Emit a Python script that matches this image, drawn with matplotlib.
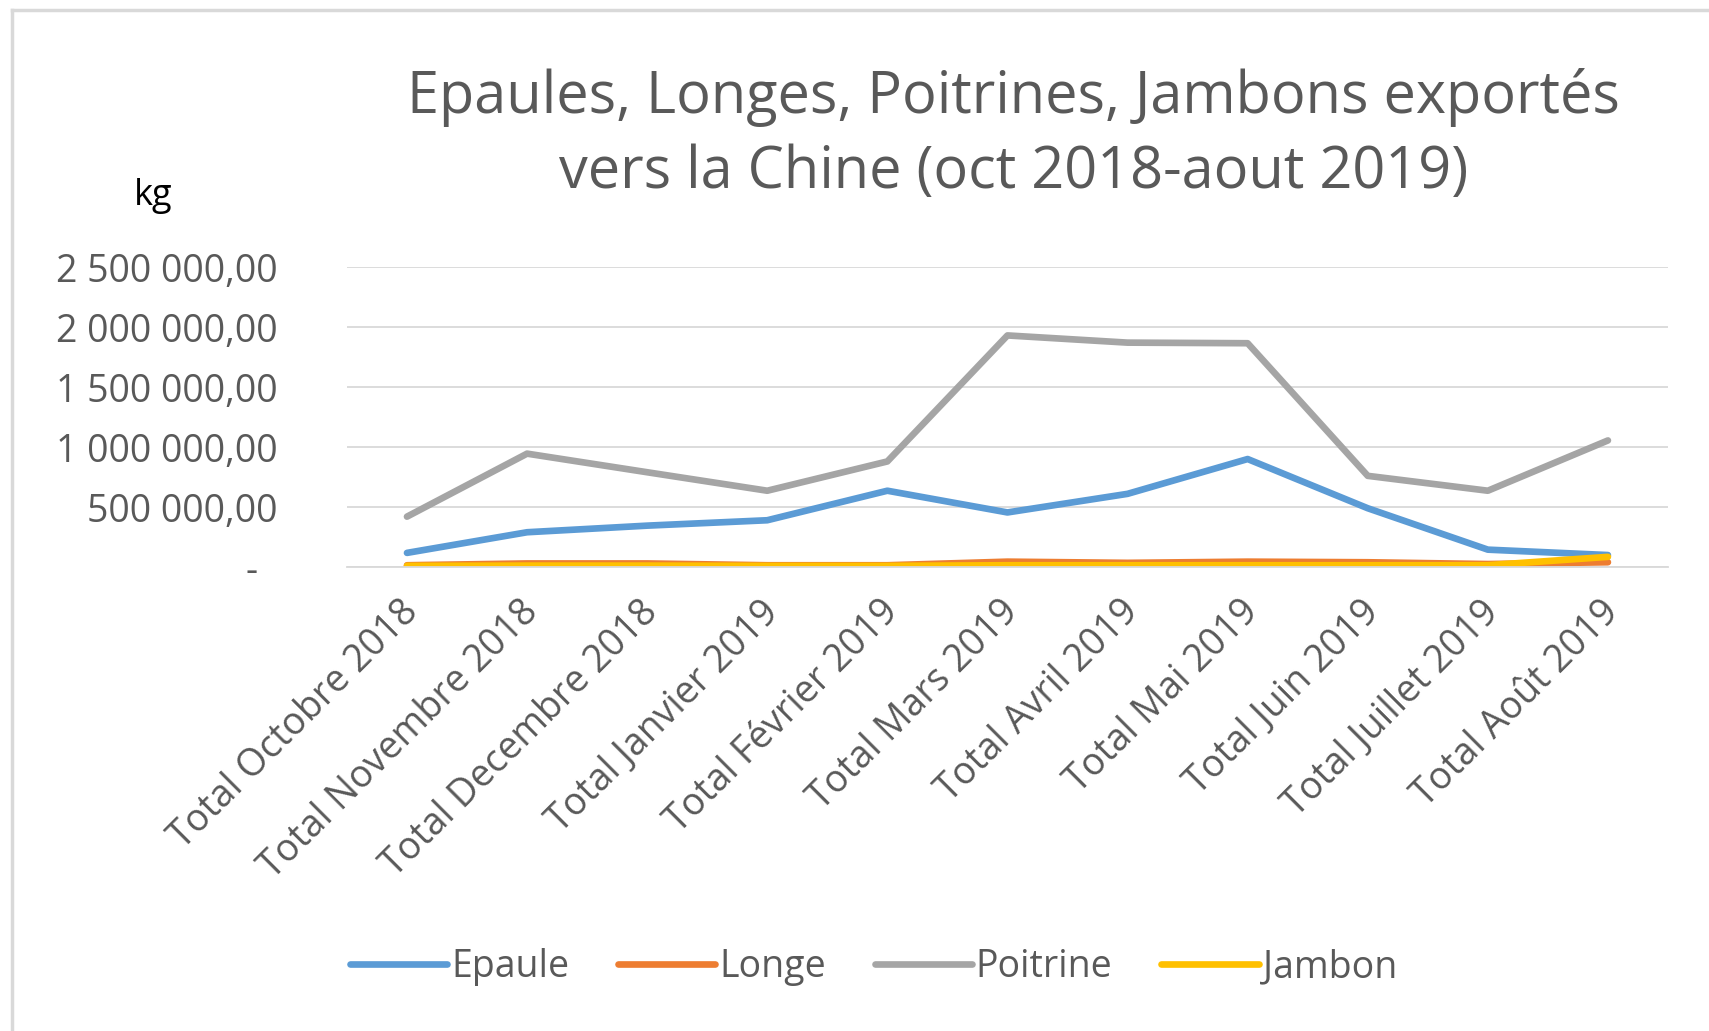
import matplotlib
matplotlib.use("Agg")
import matplotlib.pyplot as plt
from matplotlib.lines import Line2D
from matplotlib.ticker import FuncFormatter, MultipleLocator
from matplotlib.transforms import ScaledTranslation

plt.rcParams['font.family'] = ['Open Sans', 'DejaVu Sans']

months = ["Total Octobre 2018", "Total Novembre 2018", "Total Decembre 2018",
          "Total Janvier 2019", "Total Février 2019", "Total Mars 2019",
          "Total Avril 2019", "Total Mai 2019", "Total Juin 2019",
          "Total Juillet 2019", "Total Août 2019"]
epaule = [118000, 290000, 345000, 390000, 636000, 455000, 610000, 900000, 490000, 145000, 100000]
longe = [15000, 30000, 30000, 15000, 15000, 45000, 35000, 45000, 40000, 25000, 40000]
poitrine = [420000, 945000, 790000, 636000, 880000, 1930000, 1870000, 1865000, 760000, 636000, 1055000]
jambon = [10000, 12000, 12000, 10000, 10000, 15000, 15000, 15000, 15000, 15000, 85000]

series = [("Epaule", epaule, "#5B9BD5"), ("Longe", longe, "#ED7D31"),
          ("Poitrine", poitrine, "#A5A5A5"), ("Jambon", jambon, "#FFC000")]

fig = plt.figure(figsize=(17.09, 10.31), dpi=100)
ax = fig.add_axes([0.203, 0.45, 0.773, 0.291])

x = list(range(len(months)))
for name, vals, col in series:
    ax.plot(x, vals, color=col, lw=4.8, solid_capstyle='round',
            solid_joinstyle='round', label=name)

ax.set_xlim(-0.5, len(months) - 0.5)
ax.set_ylim(0, 2500000)
ax.yaxis.set_major_locator(MultipleLocator(500000))

def fmt(v, pos):
    if abs(v) < 1:
        return "-  "
    s = f"{v:,.2f}".replace(",", " ").replace(".", ",")
    return s
ax.yaxis.set_major_formatter(FuncFormatter(fmt))
ax.grid(axis='y', color='#D9D9D9', lw=1.3)
ax.set_axisbelow(True)
for s in ['top', 'right', 'left']:
    ax.spines[s].set_visible(False)
ax.spines['bottom'].set_color('#D9D9D9')
ax.spines['bottom'].set_linewidth(1.3)
ax.tick_params(axis='both', length=0, colors='#595959', labelsize=27)
ax.tick_params(axis='y', pad=50)
ax.set_xticks(x)
ax.set_xticklabels(months, rotation=45, ha='right', rotation_mode='anchor')
ax.tick_params(axis='x', pad=20)
off = ScaledTranslation(-8 / 100, 2 / 100, fig.dpi_scale_trans)
for lab in ax.get_xticklabels():
    lab.set_transform(lab.get_transform() + off)

fig.text(0.593, 0.869, "Epaules, Longes, Poitrines, Jambons exportés\nvers la Chine (oct 2018-aout 2019)",
         ha='center', va='center', fontsize=41.5, color='#595959', linespacing=1.38)
fig.text(0.0895, 0.81, "kg", ha='center', va='center', fontsize=26, color='black')

handles = [Line2D([], [], color=c, lw=4.8, solid_capstyle='round') for _, _, c in series]
fig.legend(handles, [n for n, _, _ in series], loc='center', bbox_to_anchor=(0.511, 0.062),
           ncol=4, frameon=False, fontsize=27, labelcolor='#595959', handlelength=2.6,
           handletextpad=0.1, columnspacing=1.3)

# chart border (top and left visible)
fig.add_artist(Line2D([0.007, 1.0], [0.99, 0.99], color='#D9D9D9', lw=2.5, transform=fig.transFigure))
fig.add_artist(Line2D([0.007, 0.007], [0.0, 0.99], color='#D9D9D9', lw=2.5, transform=fig.transFigure))

fig.savefig("out.png", dpi=100, facecolor='white')
